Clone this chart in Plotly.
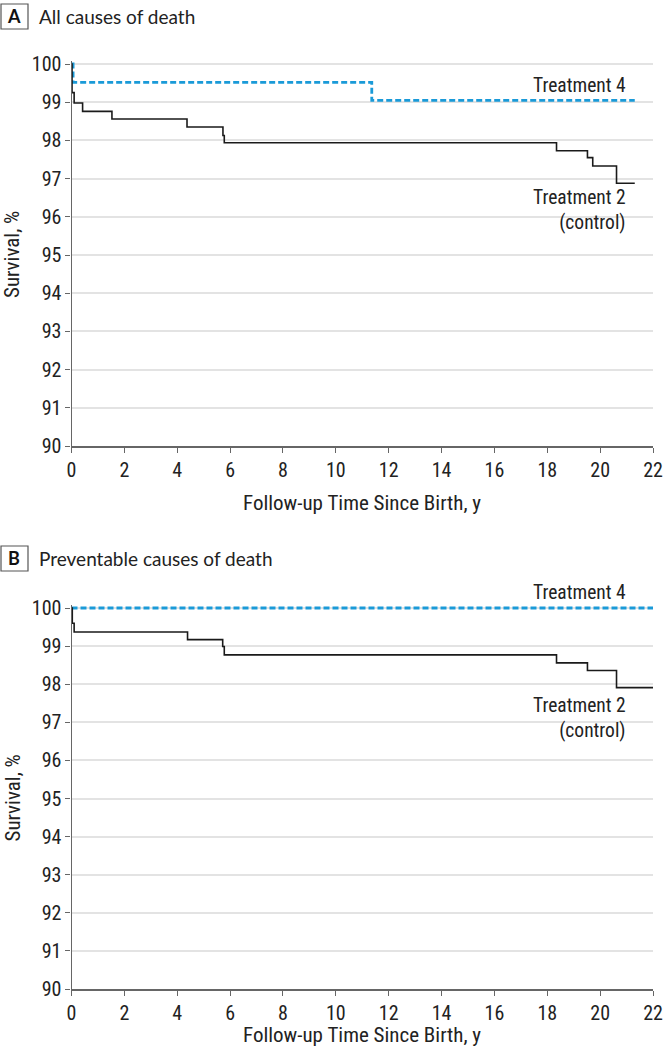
import plotly.graph_objects as go

# ---- Data ----
a_t2_time = [0, 0.02, 0.10, 0.42, 1.53, 4.37, 5.73, 5.78, 18.35, 19.52, 19.72, 20.62, 21.31]
a_t2_surv = [100, 99.25, 98.98, 98.76, 98.56, 98.35, 98.13, 97.94, 97.73, 97.55, 97.33, 96.88, 96.88]
a_t4_time = [0, 0.06, 11.36, 21.31]
a_t4_surv = [100, 99.52, 99.05, 99.05]

b_t2_time = [0, 0.03, 0.10, 4.39, 5.72, 5.78, 18.35, 19.52, 20.62, 22.0]
b_t2_surv = [100, 99.6, 99.37, 99.17, 98.99, 98.77, 98.56, 98.36, 97.91, 97.91]
b_t4_time = [0, 22.0]
b_t4_surv = [100, 100]

x_ticks = list(range(0, 23, 2))
y_ticks = list(range(90, 101, 1))

panel_titles = ["All causes of death", "Preventable causes of death"]
panel_letters = ["A", "B"]
x_title = "Follow-up Time Since Birth, y"
y_title = "Survival, %"
t4_label = "Treatment 4"
t2_label = "Treatment 2<br>(control)"

FONT = "Roboto Condensed, Liberation Sans Narrow, Roboto, sans-serif"
HFONT = "Lato, Noto Sans, sans-serif"
BLUE = "#1a9ad8"
W, H = 663, 1050

fig = go.Figure()

black_line = dict(color="#1a1a1a", width=1.6, shape="hv")
blue_line = dict(color=BLUE, width=2.8, dash="6px,3px", shape="hv")

fig.add_trace(go.Scatter(x=a_t4_time, y=a_t4_surv, mode="lines", line=blue_line, xaxis="x", yaxis="y", showlegend=False))
fig.add_trace(go.Scatter(x=a_t2_time, y=a_t2_surv, mode="lines", line=black_line, xaxis="x", yaxis="y", showlegend=False))
fig.add_trace(go.Scatter(x=b_t4_time, y=b_t4_surv, mode="lines", line=blue_line, xaxis="x2", yaxis="y2", showlegend=False))
fig.add_trace(go.Scatter(x=b_t2_time, y=b_t2_surv, mode="lines", line=black_line, xaxis="x2", yaxis="y2", showlegend=False))

def py(px):
    return 1 - px / H

def px_x(px):
    return px / W

# pixel layout (position of 100 % and 90 % lines)
A_top, A_bot = 64, 446
B_top, B_bot = 608, 989
L, R = 71.5, 653
YPAD = 0.08  # small headroom above 100 % so the top line is not clipped
unit_a = (A_bot - A_top) / 10.0
unit_b = (B_bot - B_top) / 10.0

common_x = dict(range=[0, 22], tickvals=x_ticks, ticks="outside", ticklen=5, tickcolor="#666",
                showline=True, linecolor="#666", linewidth=2, showgrid=False, zeroline=False,
                tickfont=dict(family=FONT, size=20, color="#222"), fixedrange=True)
common_y = dict(range=[90, 100 + YPAD], tickvals=y_ticks, ticks="outside", ticklen=5, tickcolor="#666",
                showline=True, linecolor="#666", linewidth=1.2, showgrid=True, gridcolor="#e3e3e3",
                gridwidth=1.5, zeroline=False, tickfont=dict(family=FONT, size=20, color="#222"),
                fixedrange=True)

fig.update_layout(
    width=W, height=H,
    margin=dict(l=0, r=0, t=0, b=0, autoexpand=False),
    paper_bgcolor="white", plot_bgcolor="white",
    xaxis=dict(domain=[px_x(L), px_x(R)], anchor="y", **common_x),
    yaxis=dict(domain=[py(A_bot), py(A_top - YPAD * unit_a)], anchor="x", **common_y),
    xaxis2=dict(domain=[px_x(L), px_x(R)], anchor="y2", **common_x),
    yaxis2=dict(domain=[py(B_bot), py(B_top - YPAD * unit_b)], anchor="x2", **common_y),
)

annotations = []
shapes = []
for i, (top, bot, head_y, xt_y) in enumerate([(A_top, A_bot, 16, 503), (B_top, B_bot, 558, 1035)]):
    # panel letter box
    shapes.append(dict(type="rect", xref="paper", yref="paper",
                       x0=px_x(1), x1=px_x(28), y0=py(head_y + 13), y1=py(head_y - 12),
                       line=dict(color="#555", width=1.2), fillcolor="white"))
    annotations.append(dict(text="<b>%s</b>" % panel_letters[i], xref="paper", yref="paper",
                            x=px_x(14.5), y=py(head_y), xanchor="center", yanchor="middle",
                            showarrow=False, font=dict(family=HFONT, size=18, color="#111")))
    annotations.append(dict(text=panel_titles[i], xref="paper", yref="paper",
                            x=px_x(37), y=py(head_y), xanchor="left", yanchor="middle",
                            showarrow=False, font=dict(family=HFONT, size=19, color="#222")))
    # axis titles
    annotations.append(dict(text=x_title, xref="paper", yref="paper",
                            x=px_x((L + R) / 2), y=py(xt_y), xanchor="center", yanchor="middle",
                            showarrow=False, font=dict(family=FONT, size=21, color="#222")))
    annotations.append(dict(text=y_title, xref="paper", yref="paper", textangle=-90,
                            x=px_x(12), y=py((top + bot) / 2), xanchor="center", yanchor="middle",
                            showarrow=False, font=dict(family=FONT, size=21, color="#222")))

# series labels
label_font = dict(family=FONT, size=19.5, color="#222")
annotations.append(dict(text=t4_label, xref="paper", yref="paper", x=px_x(628), y=py(85),
                        xanchor="right", yanchor="middle", showarrow=False, font=label_font))
annotations.append(dict(text=t2_label, xref="paper", yref="paper", x=px_x(628), y=py(210),
                        xanchor="right", yanchor="middle", align="right", showarrow=False,
                        font=label_font))
annotations.append(dict(text=t4_label, xref="paper", yref="paper", x=px_x(628), y=py(592),
                        xanchor="right", yanchor="middle", showarrow=False, font=label_font))
annotations.append(dict(text=t2_label, xref="paper", yref="paper", x=px_x(628), y=py(718),
                        xanchor="right", yanchor="middle", align="right", showarrow=False,
                        font=label_font))

fig.update_layout(annotations=annotations, shapes=shapes)
fig.write_html("out.html", config={"displayModeBar": False},
               post_script="document.body.style.margin='0';document.body.style.padding='0';")
